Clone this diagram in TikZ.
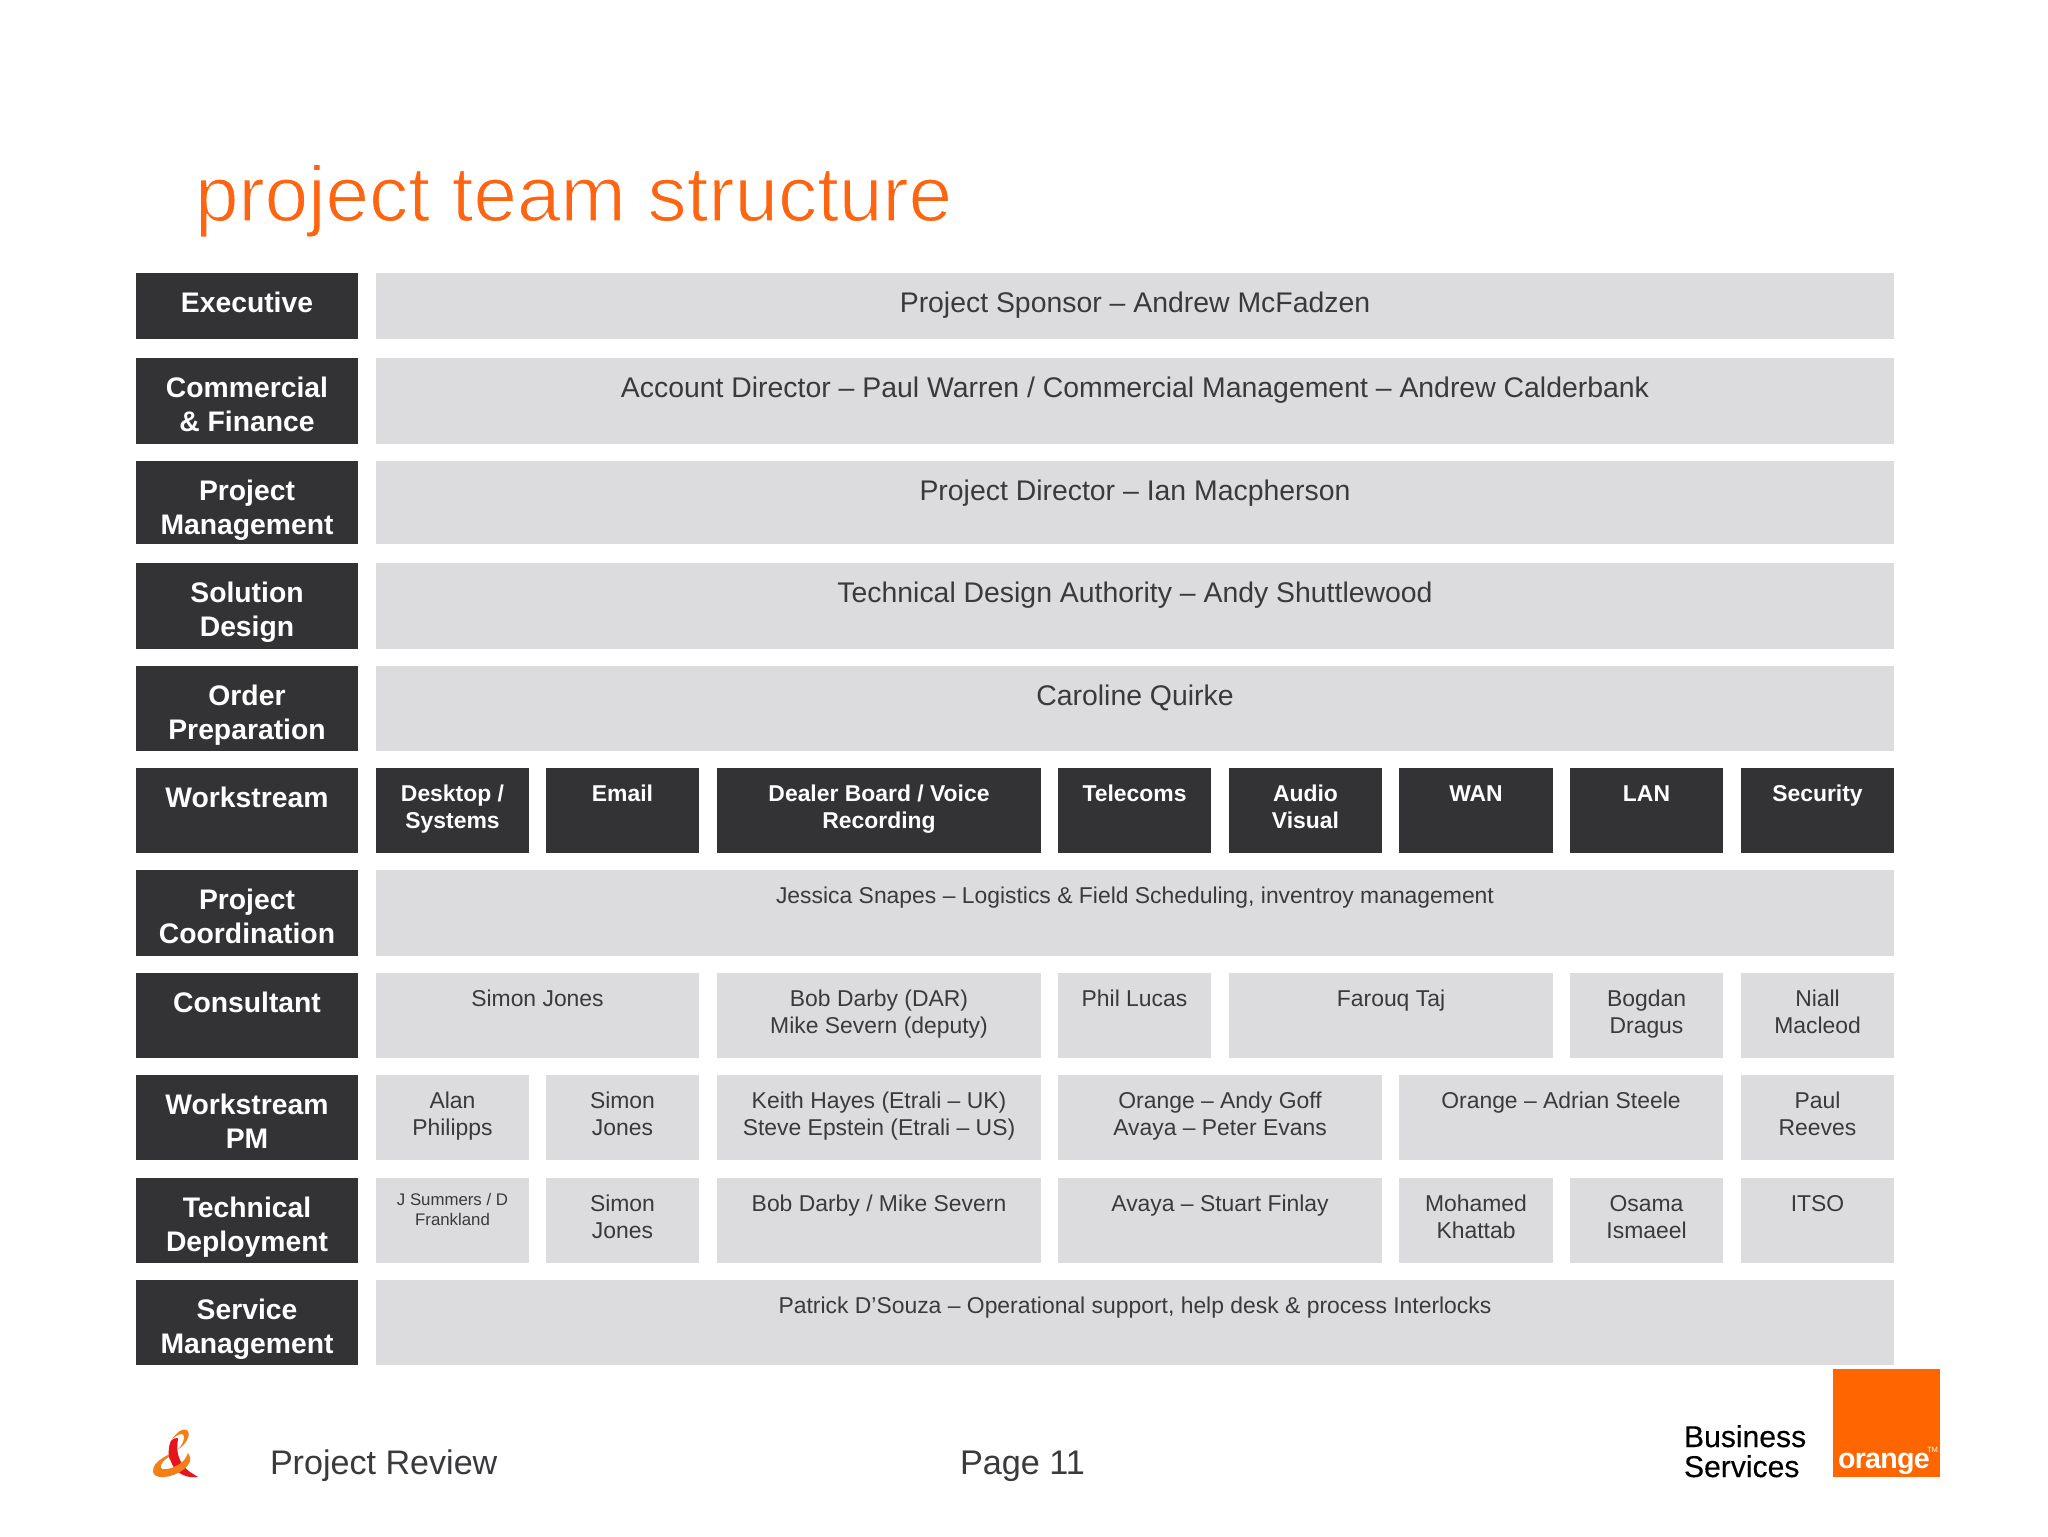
\documentclass[tikz,border=0pt]{standalone}
\usepackage{fontspec}
\setmainfont{Liberation Sans}
\newfontfamily\medfont[FakeBold=0.3]{Liberation Sans}
\newfontfamily\logofont[LetterSpace=-2.5]{Liberation Sans Bold}
\definecolor{darkbox}{HTML}{333335}
\definecolor{greybox}{HTML}{DCDBDE}
\definecolor{ink}{HTML}{3A3A3C}
\definecolor{orangeT}{HTML}{FF6410}
\definecolor{orangeL}{HTML}{FF6600}
\definecolor{ampO}{HTML}{F57F17}
\definecolor{ampR}{HTML}{E8141C}
\tikzset{
  x=0.5pt,y=-0.5pt,
  cellbase/.style={inner sep=0pt,outer sep=0pt,anchor=center},
  head/.style={cellbase,fill=darkbox,text=white,font={\bfseries\fontsize{14.15}{17}\selectfont\def\topB{19.5pt}}},
  subhead/.style={cellbase,fill=darkbox,text=white,font={\bfseries\fontsize{11.45}{13.5}\selectfont\def\topB{16.5pt}}},
  bigcell/.style={cellbase,fill=greybox,text=ink,font={\fontsize{14.2}{17}\selectfont\def\topB{19.5pt}}},
  smallcell/.style={cellbase,fill=greybox,text=ink,font={\fontsize{11.45}{13.5}\selectfont\def\topB{16.5pt}}},
  tinycell/.style={cellbase,fill=greybox,text=ink,font={\fontsize{8.4}{10.4}\selectfont\def\topB{13.5pt}}},
  freetext/.style={inner sep=0pt,outer sep=0pt,anchor=base west},
}
% name, x1, y1, x2, y2, style, text
\newcommand{\cell}[7]{%
  \pgfmathsetmacro\cellw{(#4-#2)/2}%
  \pgfmathsetmacro\cellh{(#5-#3)/2}%
  \node[#6,minimum width=\cellw pt,minimum height=\cellh pt] (#1) at ({(#2+#4)/2},{(#3+#5)/2})
    {\parbox[c][\cellh pt][t]{\cellw pt}{\centering\rule{0pt}{\topB}#7}};%
}
\newcommand{\rowhead}[4]{\cell{#1}{136}{#2}{358}{#3}{head}{#4}}
\newcommand{\wide}[5]{\cell{#1}{376}{#2}{1894}{#3}{#4}{#5}}
\begin{document}
\begin{tikzpicture}
\useasboundingbox (0,0) rectangle (2048,1536);
\fill[white] (0,0) rectangle (2048,1536);
\node[freetext,text=orangeT,font={\fontsize{39.15}{46}\selectfont}] (title) at (195,221) {\special{pdf:code 2 Tr 0.7 w 1 1 1 RG}project team structure\special{pdf:code 0 Tr 0.4 w 0 0 0 RG}};
% row headers
\rowhead{hExec}{273}{339}{Executive}
\rowhead{hComm}{358}{444}{Commercial\\\& Finance}
\rowhead{hPM}{461}{544}{Project\\Management}
\rowhead{hSol}{563}{649}{Solution\\Design}
\rowhead{hOrd}{666}{751}{Order\\Preparation}
\rowhead{hWork}{768}{853}{Workstream}
\rowhead{hCoord}{870}{956}{Project\\Coordination}
\rowhead{hCons}{973}{1058}{Consultant}
\rowhead{hWPM}{1075}{1160}{Workstream\\PM}
\rowhead{hTech}{1178}{1263}{Technical\\Deployment}
\rowhead{hServ}{1280}{1365}{Service\\Management}
% wide rows
\wide{rExec}{273}{339}{bigcell}{Project Sponsor – Andrew McFadzen}
\wide{rComm}{358}{444}{bigcell}{Account Director – Paul Warren / Commercial Management – Andrew Calderbank}
\wide{rPM}{461}{544}{bigcell}{Project Director – Ian Macpherson}
\wide{rSol}{563}{649}{bigcell}{Technical Design Authority – Andy Shuttlewood}
\wide{rOrd}{666}{751}{bigcell}{Caroline Quirke}
\wide{rCoord}{870}{956}{smallcell}{Jessica Snapes – Logistics \& Field Scheduling, inventroy management}
\wide{rServ}{1280}{1365}{smallcell}{Patrick D’Souza – Operational support, help desk \& process Interlocks}
% workstream
\cell{w1}{376}{768}{529}{853}{subhead}{Desktop /\hspace{3pt}\\Systems}
\cell{w2}{546}{768}{699}{853}{subhead}{Email}
\cell{w3}{717}{768}{1041}{853}{subhead}{Dealer Board / Voice\\Recording}
\cell{w4}{1058}{768}{1211}{853}{subhead}{Telecoms}
\cell{w5}{1229}{768}{1382}{853}{subhead}{Audio\\Visual}
\cell{w6}{1399}{768}{1553}{853}{subhead}{WAN}
\cell{w7}{1570}{768}{1723}{853}{subhead}{LAN}
\cell{w8}{1741}{768}{1894}{853}{subhead}{Security}
% consultant
\cell{c1}{376}{973}{699}{1058}{smallcell}{Simon Jones}
\cell{c2}{717}{973}{1041}{1058}{smallcell}{Bob Darby (DAR)\\Mike Severn (deputy)}
\cell{c3}{1058}{973}{1211}{1058}{smallcell}{Phil Lucas}
\cell{c4}{1229}{973}{1553}{1058}{smallcell}{Farouq Taj}
\cell{c5}{1570}{973}{1723}{1058}{smallcell}{Bogdan\\Dragus}
\cell{c6}{1741}{973}{1894}{1058}{smallcell}{Niall\\Macleod}
% workstream PM
\cell{p1}{376}{1075}{529}{1160}{smallcell}{Alan\\Philipps}
\cell{p2}{546}{1075}{699}{1160}{smallcell}{Simon\\Jones}
\cell{p3}{717}{1075}{1041}{1160}{smallcell}{Keith Hayes (Etrali – UK)\\Steve Epstein (Etrali – US)}
\cell{p4}{1058}{1075}{1382}{1160}{smallcell}{Orange – Andy Goff\\Avaya – Peter Evans}
\cell{p5}{1399}{1075}{1723}{1160}{smallcell}{Orange – Adrian Steele}
\cell{p6}{1741}{1075}{1894}{1160}{smallcell}{Paul\\Reeves}
% technical deployment
\cell{t1}{376}{1178}{529}{1263}{tinycell}{J Summers / D\\Frankland}
\cell{t2}{546}{1178}{699}{1263}{smallcell}{Simon\\Jones}
\cell{t3}{717}{1178}{1041}{1263}{smallcell}{Bob Darby / Mike Severn}
\cell{t4}{1058}{1178}{1382}{1263}{smallcell}{Avaya – Stuart Finlay}
\cell{t5}{1399}{1178}{1553}{1263}{smallcell}{Mohamed\\Khattab}
\cell{t6}{1570}{1178}{1723}{1263}{smallcell}{Osama\\Ismaeel}
\cell{t7}{1741}{1178}{1894}{1263}{smallcell}{ITSO}
% footer
\node[freetext,text=ink,font={\fontsize{17.05}{20}\selectfont}] (review) at (270,1474) {Project Review};
\node[freetext,text=ink,font={\fontsize{17.1}{20}\selectfont}] (page) at (960,1474) {Page 11};
\node[freetext,text=black,font={\medfont\fontsize{15.05}{18}\selectfont}] (bs1) at (1684,1447) {Business};
\node[freetext,text=black,font={\medfont\fontsize{15.05}{18}\selectfont}] (bs2) at (1684,1477) {Services};
\fill[orangeL] (1833,1369) rectangle (1940,1477);
\node[freetext,text=white,font={\logofont\fontsize{14.3}{17}\selectfont}] (orange) at (1838,1468) {orange};
\node[freetext,text=white,font={\fontsize{3.8}{4}\selectfont}] (tm) at (1927,1452) {TM};
% ampersand logo
\fill[ampR] (171,1441) .. controls (167,1450) and (169,1462) .. (176,1470)
  .. controls (182,1476) and (190,1478) .. (198,1477)
  .. controls (192,1473) and (187,1471) .. (183,1465)
  .. controls (178,1458) and (176,1450) .. (178,1438)
  .. controls (175,1438) and (173,1439) .. (171,1441) -- cycle;
\fill[ampO] (171,1441) .. controls (176,1432) and (183,1428) .. (187,1430)
  .. controls (191,1433) and (188,1442) .. (180,1448)
  .. controls (170,1455) and (152,1460) .. (153,1472)
  .. controls (155,1482) and (180,1476) .. (188,1465)
  .. controls (192,1460) and (190,1456) .. (188,1453)
  .. controls (186,1458) and (184,1462) .. (176,1466)
  .. controls (168,1470) and (159,1471) .. (161,1465)
  .. controls (163,1459) and (172,1456) .. (178,1449)
  .. controls (184,1444) and (186,1434) .. (182,1434)
  .. controls (178,1434) and (174,1437) .. (171,1441) -- cycle;
\fill[ampR] (171,1441) .. controls (168,1448) and (168,1456) .. (170,1460)
  -- (178,1457) .. controls (176,1450) and (177,1444) .. (178,1438)
  .. controls (175,1438) and (173,1439) .. (171,1441) -- cycle;
\end{tikzpicture}
\end{document}
